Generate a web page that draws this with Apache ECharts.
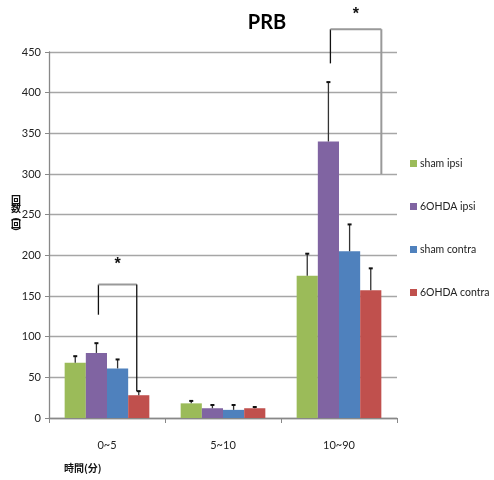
<!DOCTYPE html>
<html><head><meta charset="utf-8">
<script src="https://cdn.jsdelivr.net/npm/echarts@6/dist/echarts.min.js"></script>
<style>html,body{margin:0;padding:0;background:#fff}#c{width:494px;height:480px}</style>
</head><body><div id="c"></div>
<script>
var categories = ['0~5', '5~10', '10~90'];
var seriesNames = ['sham ipsi', '6OHDA ipsi', 'sham contra', '6OHDA contra'];
var shamIpsi = [68, 18, 175];
var ohdaIpsi = [80, 12, 340];
var shamContra = [61, 10, 205];
var ohdaContra = [28, 12, 157];
var shamIpsiErr = [76, 21, 202];
var ohdaIpsiErr = [92, 16, 413];
var shamContraErr = [72, 16, 238];
var ohdaContraErr = [33, 13.5, 184];
var yTicks = [0, 50, 100, 150, 200, 250, 300, 350, 400, 450];
var colors = ['#9BBB59', '#8064A2', '#4F81BD', '#C0504D'];

var values = [shamIpsi, ohdaIpsi, shamContra, ohdaContra];
var errs = [shamIpsiErr, ohdaIpsiErr, shamContraErr, ohdaContraErr];
var GAP = 0.27;
var FONT = 'Lato';

var chart = echarts.init(document.getElementById('c'), null, {renderer: 'canvas'});
var series = [];
values.forEach(function (v, i) {
  series.push({
    name: seriesNames[i], type: 'bar', data: v, barGap: '0%', barCategoryGap: (GAP * 100) + '%',
    itemStyle: {color: colors[i]}, z: 2
  });
});
errs.forEach(function (e, i) {
  var data = e.map(function (top, k) { return [k, values[i][k], top]; });
  series.push({
    type: 'custom', name: 'err' + i, z: 3, silent: true,
    data: data,
    encode: {x: 0, y: [1, 2]},
    renderItem: function (params, api) {
      var k = api.value(0);
      var base = api.coord([k, api.value(1)]);
      var top = api.coord([k, api.value(2)]);
      var bw = api.size([1, 0])[0];
      var w = bw * (1 - GAP) / 4;
      var x = base[0] - bw * (1 - GAP) / 2 + w * (i + 0.5);
      var st = {stroke: '#333', lineWidth: 1.3};
      return {type: 'group', children: [
        {type: 'line', shape: {x1: x, y1: base[1], x2: x, y2: top[1]}, style: st},
        {type: 'line', shape: {x1: x - 2, y1: top[1], x2: x + 2, y2: top[1]}, style: {stroke: '#111', lineWidth: 2}}
      ]};
    }
  });
});

chart.setOption({
  animation: false,
  title: {text: 'PRB', left: 262, top: 8, textAlign: 'center',
    textStyle: {fontSize: 20, fontWeight: 'bold', color: '#000', fontFamily: FONT}},
  legend: {
    orient: 'vertical', left: 410, top: 158, padding: 0, itemGap: 32, itemWidth: 7, itemHeight: 7,
    icon: 'rect', data: seriesNames,
    textStyle: {fontSize: 10.5, color: '#222', fontFamily: FONT, padding: [0, 0, 0, -2], overflow: 'none'}
  },
  grid: {left: 49, right: 97, top: 52, bottom: 62},
  xAxis: {
    type: 'category', data: categories,
    axisLine: {lineStyle: {color: '#888', width: 1.3}},
    axisTick: {show: true, length: 5, lineStyle: {color: '#888'}},
    axisLabel: {margin: 22, fontSize: 11, color: '#222', fontFamily: FONT}
  },
  yAxis: {
    type: 'value', min: yTicks[0], max: yTicks[yTicks.length - 1], interval: 50,
    axisLine: {show: true, lineStyle: {color: '#888', width: 1.3}},
    axisTick: {show: true, length: 4, lineStyle: {color: '#888'}},
    axisLabel: {fontSize: 11, color: '#222', margin: 8, fontFamily: FONT},
    splitLine: {lineStyle: {color: '#a6a6a6', width: 1.3}}
  },
  series: series
});

function px(cat, val) { return chart.convertToPixel({xAxisIndex: 0, yAxisIndex: 0}, [cat, val]); }
var bw = chart.getModel().getComponent('xAxis', 0).axis.getBandWidth();
function barX(cat, i) {
  var c = px(cat, 0)[0];
  var w = bw * (1 - GAP) / 4;
  return c - bw * (1 - GAP) / 2 + w * (i + 0.5);
}
var g = [];
var brSt = {stroke: '#111', lineWidth: 1.3};
var brSt2 = {stroke: '#999', lineWidth: 2};
// bracket group 1
var ax1 = barX(0, 1) + 2, bx1 = barX(0, 3) - 2;
var ty1 = px(0, 164)[1];
g.push({type: 'line', shape: {x1: ax1, y1: px(0, 127)[1], x2: ax1, y2: ty1}, style: brSt});
g.push({type: 'line', shape: {x1: ax1, y1: ty1, x2: bx1, y2: ty1}, style: brSt2});
g.push({type: 'line', shape: {x1: bx1, y1: ty1, x2: bx1, y2: px(0, 33)[1]}, style: brSt});
g.push({type: 'text', style: {text: '*', x: (ax1 + bx1) / 2, y: px(0, 188)[1], align: 'center', verticalAlign: 'middle', fontSize: 16, fontWeight: 'bold', fill: '#111'}});
// bracket group 3
var ax3 = barX(2, 1) + 2, bx3 = barX(2, 3) + bw * (1 - GAP) / 8;
var ty3 = px(2, 478)[1];
g.push({type: 'line', shape: {x1: ax3, y1: px(2, 436)[1], x2: ax3, y2: ty3}, style: brSt});
g.push({type: 'line', shape: {x1: ax3, y1: ty3, x2: bx3, y2: ty3}, style: brSt2});
g.push({type: 'line', shape: {x1: bx3, y1: ty3, x2: bx3, y2: px(2, 300)[1]}, style: brSt2});
g.push({type: 'text', style: {text: '*', x: (ax3 + bx3) / 2, y: px(2, 496)[1], align: 'center', verticalAlign: 'middle', fontSize: 16, fontWeight: 'bold', fill: '#111'}});
// axis names
g.push({type: 'text', style: {text: '回\n数\n︵\n回\n︶', x: 16, y: 216, align: 'center', verticalAlign: 'middle', fontSize: 10, lineHeight: 8, fontWeight: 'bold', fill: '#111', fontFamily: 'Noto Sans CJK JP'}});
g.push({type: 'text', style: {text: '時間(分)', x: 64, y: 468, align: 'left', verticalAlign: 'middle', fontSize: 10, fontWeight: 'bold', fill: '#111', fontFamily: 'Noto Sans CJK JP'}});
chart.setOption({graphic: g});
</script></body></html>
